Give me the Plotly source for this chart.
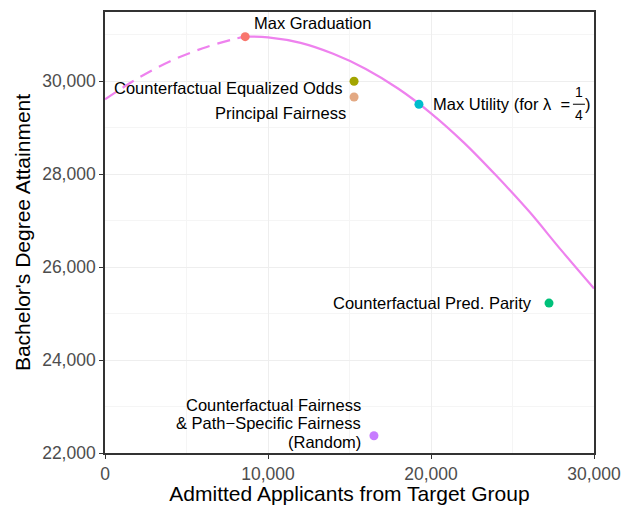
import plotly.graph_objects as go

# Frontier curve
curve_dashed_x = [0, 2000, 4000, 6000, 8000, 8600]
curve_dashed_y = [29610, 30060, 30430, 30710, 30915, 30960]
curve_solid_x = [8600, 10000, 12000, 14000, 16000, 18000, 20000, 22000, 24000, 26000, 28000, 30000]
curve_solid_y = [30960, 30945, 30825, 30590, 30265, 29838, 29310, 28685, 27970, 27206, 26360, 25540]

# Points
pt_names = ["Max Graduation", "Counterfactual Equalized Odds", "Principal Fairness",
            "Max Utility", "Counterfactual Pred. Parity", "Random"]
pt_x = [8600, 15280, 15280, 19260, 27240, 16500]
pt_y = [30960, 30000, 29662, 29505, 25226, 22372]
pt_colors = ["#F8766D", "#A3A500", "#E3A983", "#00BCCC", "#00C17A", "#C77CFF"]

x_ticks = [0, 10000, 20000, 30000]
y_ticks = [22000, 24000, 26000, 28000, 30000]

line_color = "#EE82EE"
font_family = "Liberation Sans, Arial, Helvetica, sans-serif"

fig = go.Figure()
fig.add_trace(go.Scatter(x=curve_dashed_x, y=curve_dashed_y, mode="lines",
                         line=dict(color=line_color, width=2.2, dash="13px,8px", shape="spline"),
                         hoverinfo="skip"))
fig.add_trace(go.Scatter(x=curve_solid_x, y=curve_solid_y, mode="lines",
                         line=dict(color=line_color, width=2.2, shape="spline"),
                         hoverinfo="skip"))
fig.add_trace(go.Scatter(x=pt_x, y=pt_y, mode="markers", text=pt_names,
                         marker=dict(color=pt_colors, size=9, line=dict(width=0))))


def ann(i, text, xanchor, xshift, yshift, size=16.5):
    fig.add_annotation(x=pt_x[i], y=pt_y[i], text=text, showarrow=False,
                       xanchor=xanchor, yanchor="middle", xshift=xshift, yshift=yshift,
                       font=dict(family=font_family, size=size, color="black"))

ann(0, "Max Graduation", "left", 7, 14)
ann(1, "Counterfactual Equalized Odds", "right", -10, -7)
ann(2, "Principal Fairness", "right", -6, -16)
ann(3, "Max Utility (for λ  =", "left", 12, 0)
ann(3, "1", "center", 160, 12, size=14)
ann(3, "4", "center", 160, -11, size=14)
ann(3, ")", "left", 164, 0)
ann(4, "Counterfactual Pred. Parity", "right", -15, 0)
ann(5, "Counterfactual Fairness", "right", -11, 31)
ann(5, "& Path\u2212Specific Fairness", "right", -11, 13)
ann(5, "(Random)", "right", -11, -6)

# fraction bar
fig.add_shape(type="line", xref="x", yref="y", xsizemode="pixel", ysizemode="pixel",
              xanchor=pt_x[3], yanchor=pt_y[3], x0=154, x1=166, y0=0, y1=0,
              line=dict(color="black", width=1))

axis_common = dict(
    showline=True, linecolor="#333333", linewidth=1.6, mirror=True,
    ticks="outside", ticklen=4, tickwidth=1.2, tickcolor="#333333",
    tickfont=dict(family=font_family, size=17.5, color="#4D4D4D"),
    showgrid=True, gridcolor="#EEEEEE", gridwidth=0.8, zeroline=False,
    tickformat=",d", automargin=False,
)

fig.update_layout(
    width=622, height=505,
    margin=dict(l=105, r=28, t=12, b=52),
    paper_bgcolor="white", plot_bgcolor="white",
    showlegend=False,
    xaxis=dict(range=[0, 30000], tickvals=x_ticks,
               minor=dict(dtick=5000, tick0=0, showgrid=True, gridcolor="#F5F5F5", gridwidth=0.6, ticks=""),
               title=dict(text="Admitted Applicants from Target Group", standoff=9,
                          font=dict(family=font_family, size=21, color="black")),
               **axis_common),
    yaxis=dict(range=[22000, 31490], tickvals=y_ticks,
               minor=dict(dtick=1000, tick0=0, showgrid=True, gridcolor="#F5F5F5", gridwidth=0.6, ticks=""),
               title=dict(text="Bachelor's Degree Attainment", standoff=6,
                          font=dict(family=font_family, size=21, color="black")),
               **axis_common),
)

fig.write_html("out.html", config={"displayModeBar": False},
               post_script="document.body.style.margin='0px';document.body.style.overflow='hidden';")
